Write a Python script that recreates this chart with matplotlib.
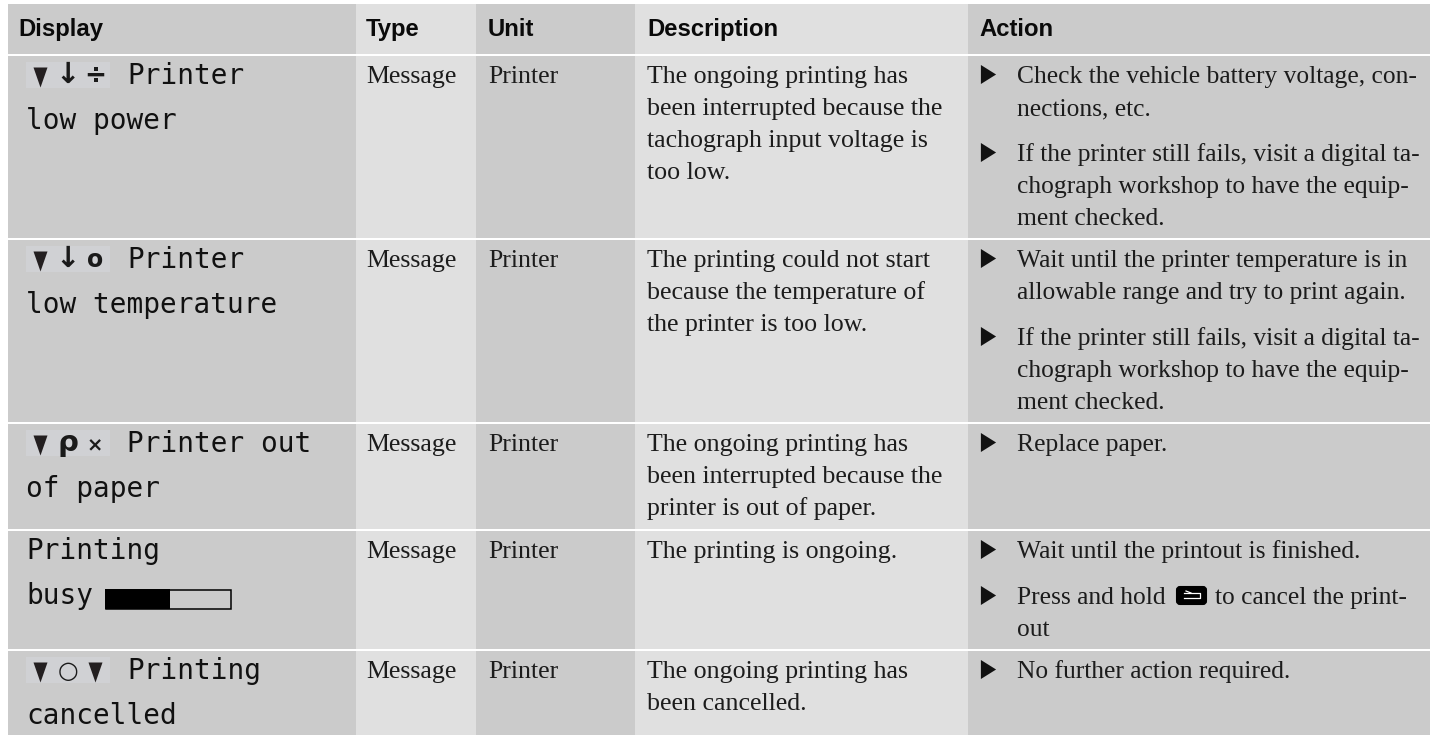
import matplotlib
matplotlib.use("Agg")
import matplotlib.pyplot as plt
from matplotlib.patches import Rectangle, FancyBboxPatch

headers = ["Display", "Type", "Unit", "Description", "Action"]
display_icons = [["▼", "↓", "÷"], ["▼", "↓", "o"], ["▼", "ρ", "×"], [], ["▼", "○", "▼"]]
display_first = ["Printer", "Printer", "Printer out", "Printing", "Printing"]
display_second = ["low power", "low temperature", "of paper", "busy", "cancelled"]
types = ["Message"] * 5
units = ["Printer"] * 5
descriptions = [
    ["The ongoing printing has", "been interrupted because the", "tachograph input voltage is", "too low."],
    ["The printing could not start", "because the temperature of", "the printer is too low."],
    ["The ongoing printing has", "been interrupted because the", "printer is out of paper."],
    ["The printing is ongoing."],
    ["The ongoing printing has", "been cancelled."],
]
actions = [
    [["Check the vehicle battery voltage, con-", "nections, etc."],
     ["If the printer still fails, visit a digital ta-", "chograph workshop to have the equip-", "ment checked."]],
    [["Wait until the printer temperature is in", "allowable range and try to print again."],
     ["If the printer still fails, visit a digital ta-", "chograph workshop to have the equip-", "ment checked."]],
    [["Replace paper."]],
    [["Wait until the printout is finished."],
     ["Press and hold |to cancel the print-", "out"]],
    [["No further action required."]],
]

col_edges = [8, 356, 476, 635, 968, 1430]
col_text_x = [18, 366, 488, 647, 979]
row_edges = [(4, 54), (56, 238), (240, 422), (424, 529), (531, 649), (651, 735)]
dark = "#cbcbcb"
light = "#e0e0e0"
ink = "#1c1c1c"

SERIF = dict(family="Liberation Serif", fontsize=18.6, color=ink, va="baseline")
ACTION = dict(SERIF, fontsize=18.4)
LCD = dict(family="DejaVu Sans Mono", fontsize=20, color="#111111", va="baseline")
icon_size = {"↓": 21, "ρ": 21, "×": 14, "o": 17, "÷": 19, "○": 17}

fig = plt.figure(figsize=(14.35, 7.35), dpi=100)
ax = fig.add_axes([0, 0, 1, 1])
ax.set_xlim(0, 1435)
ax.set_ylim(735, 0)
ax.axis("off")

# banded cells
for top, bottom in row_edges:
    for c in range(5):
        color = dark if c % 2 == 0 else light
        ax.add_patch(Rectangle((col_edges[c], top), col_edges[c + 1] - col_edges[c], bottom - top,
                               facecolor=color, edgecolor="none"))

for c, h in enumerate(headers):
    ax.text(col_text_x[c], 36, h, family="Liberation Sans", weight="bold", fontsize=17.2,
            color="#0a0a0a", va="baseline")

tri_down = [(-0.7, 1), (0.7, 1), (0, -1)]
tri_right = [(-0.8, -1), (0.8, 0), (-0.8, 1)]
icon_x = [40, 68, 95]

for r in range(5):
    top = row_edges[r + 1][0]
    # display column
    icons = display_icons[r]
    if icons:
        ax.add_patch(Rectangle((26, top + 6), 84, 26, facecolor="#d0d1d4", edgecolor="none"))
        for x, g in zip(icon_x, icons):
            if g == "▼":
                ax.plot([x], [top + 20.5], marker=tri_down, ms=14.4, color="#231f20", mew=0, ls="none")
            else:
                ax.text(x, top + 27, g, family="DejaVu Sans", weight="bold", fontsize=icon_size[g],
                        color="#1a1a1a", ha="center", va="baseline")
        first_x = 127
    else:
        first_x = 26
    ax.text(first_x, top + 28, display_first[r], **LCD)
    ax.text(26, top + 73, display_second[r], **LCD)
    if display_second[r] == "busy":
        ax.add_patch(Rectangle((105.75, top + 58.75), 125.5, 19, facecolor="none", edgecolor="black", lw=1.1))
        ax.add_patch(Rectangle((105, top + 58), 65, 20, facecolor="black", edgecolor="none"))

    ax.text(col_text_x[1], top + 27, types[r], **SERIF)
    ax.text(col_text_x[2], top + 27, units[r], **SERIF)
    for i, line in enumerate(descriptions[r]):
        ax.text(col_text_x[3], top + 27 + 32 * i, line, **SERIF)

    # action column with bullets
    y = top + 27
    for item in actions[r]:
        ax.plot([987.5], [y - 9], marker=tri_right, ms=13.7, color="#111111", mew=0, ls="none")
        for i, line in enumerate(item):
            if "|" in line:
                left, right = line.split("|")
                ax.text(1017, y, left.strip(), **ACTION)
                ax.add_patch(FancyBboxPatch((1177, y - 17), 29, 17, boxstyle="round,pad=0,rounding_size=3",
                                            facecolor="black", edgecolor="black", lw=1.5))
                ax.plot([1184, 1200, 1200, 1184], [y - 11, y - 11, y - 6, y - 6], color="white", lw=0.9)
                ax.plot([1186, 1191], [y - 13, y - 11], color="white", lw=0.9)
                ax.text(1215, y, right, **ACTION)
            else:
                ax.text(1017, y, line, **ACTION)
            y += 32
        y += 14

fig.savefig("out.png", dpi=100, facecolor="white")
